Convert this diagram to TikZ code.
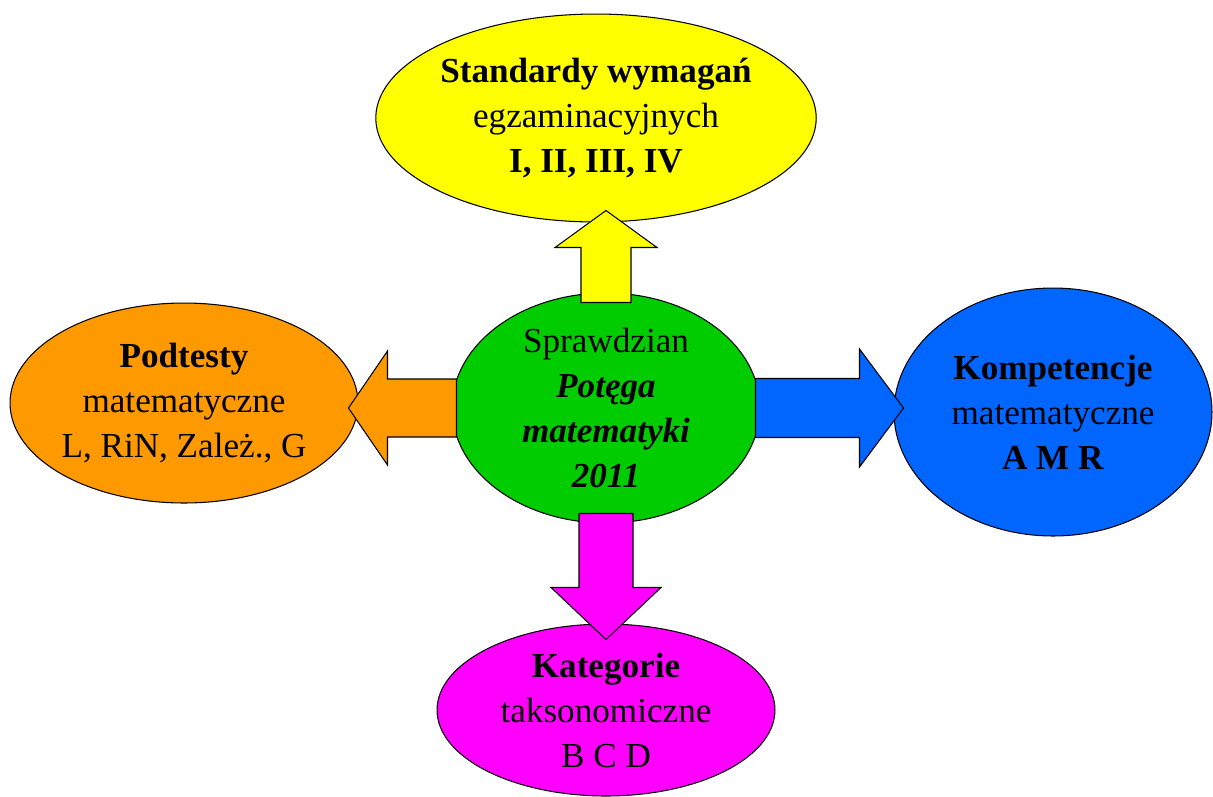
\documentclass[tikz,border=0pt]{standalone}
\usepackage{fontspec}
\setmainfont{Liberation Serif}
\usepackage{tikz}
\usetikzlibrary{calc,shapes.geometric}
\definecolor{ovYellow}{HTML}{FFFF00}
\definecolor{ovGreen}{HTML}{00CC00}
\definecolor{ovOrange}{HTML}{FF9900}
\definecolor{ovBlue}{HTML}{0066FF}
\definecolor{ovMagenta}{HTML}{FF00FF}

\begin{document}
\begin{tikzpicture}[
    x=0.02cm, y=-0.02cm,
    oval/.style={ellipse, draw=black, line width=0.6pt, inner sep=0pt,
        align=center, font=\fontsize{20}{25.6}\selectfont},
    blockarr/.style={draw=black, line width=0.6pt, line join=miter},
]
\useasboundingbox (0,0) rectangle (1213,796);

% ovals
\node[oval, fill=ovYellow, minimum width=8.76cm, minimum height=4.16cm] (std) at (596,118)
    {\textbf{Standardy wymagań}\\egzaminacyjnych\\\textbf{I, II, III, IV}};
\node[oval, fill=ovGreen, minimum width=6.16cm, minimum height=4.6cm] (centre) at (606,408)
    {Sprawdzian\\\textbf{\textit{Potęga}}\\\textbf{\textit{matematyki}}\\\textbf{\textit{2011}}};
\node[oval, fill=ovOrange, minimum width=6.96cm, minimum height=4cm] (podt) at (184,403)
    {\textbf{Podtesty}\\matematyczne\\L, RiN, Zależ., G};
\node[oval, fill=ovBlue, minimum width=6.36cm, minimum height=4.96cm] (komp) at (1053,412)
    {\textbf{Kompetencje}\\matematyczne\\\textbf{A M R}};
\node[oval, fill=ovMagenta, minimum width=6.76cm, minimum height=3.44cm] (kat) at (606,710)
    {\textbf{Kategorie}\\taksonomiczne\\B C D};

% block arrows (up, left, right, down)
\draw[blockarr, fill=ovYellow]
    let \p1 = ($(centre.north)+(0,10)$), \p2 = ($(centre.north |- std.south)+(0,-12)$) in
    (\x1-0.5cm,\y1) -- (\x1-0.5cm,\y2-0.74cm) -- (\x1-1.02cm,\y2-0.74cm) -- (\x2,\y2)
    -- (\x1+1.02cm,\y2-0.74cm) -- (\x1+0.5cm,\y2-0.74cm) -- (\x1+0.5cm,\y1) -- cycle;
\draw[blockarr, fill=ovOrange]
    let \p1 = ($(centre.west)+(5,0)$), \p2 = ($(podt.east |- centre.west)+(-10,0)$) in
    (\x1,\y1+0.58cm) -- (\x2+0.78cm,\y1+0.58cm) -- (\x2+0.78cm,\y1+1.14cm) -- (\x2,\y2)
    -- (\x2+0.78cm,\y1-1.14cm) -- (\x2+0.78cm,\y1-0.58cm) -- (\x1,\y1-0.58cm) -- cycle;
\draw[blockarr, fill=ovBlue]
    let \p1 = ($(centre.east)+(-5,0)$), \p2 = ($(komp.west |- centre.east)+(10,0)$) in
    (\x1,\y1+0.59cm) -- (\x2-0.88cm,\y1+0.59cm) -- (\x2-0.88cm,\y1+1.18cm) -- (\x2,\y2)
    -- (\x2-0.88cm,\y1-1.18cm) -- (\x2-0.88cm,\y1-0.59cm) -- (\x1,\y1-0.59cm) -- cycle;
\draw[blockarr, fill=ovMagenta]
    let \p1 = ($(centre.south)+(0,-10)$), \p2 = ($(centre.south |- kat.north)+(0,16)$) in
    (\x1-0.54cm,\y1) -- (\x1-0.54cm,\y2+1.04cm) -- (\x1-1.1cm,\y2+1.04cm) -- (\x2,\y2)
    -- (\x1+1.1cm,\y2+1.04cm) -- (\x1+0.54cm,\y2+1.04cm) -- (\x1+0.54cm,\y1) -- cycle;
\end{tikzpicture}
\end{document}
